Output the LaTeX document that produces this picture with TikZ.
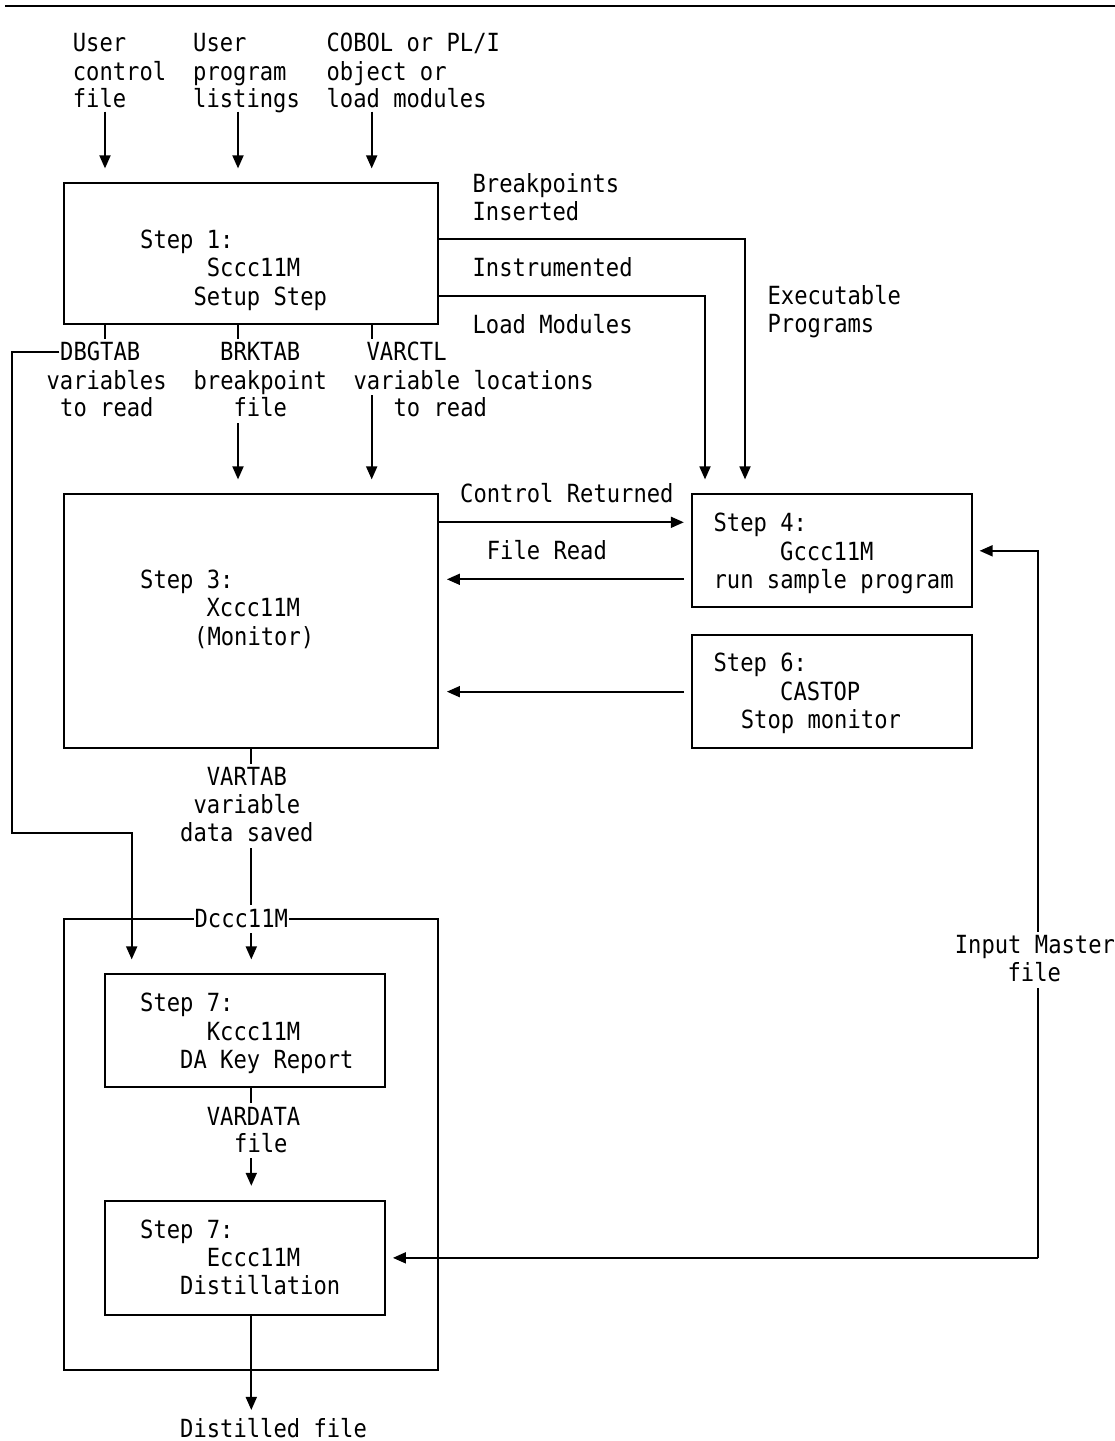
\documentclass[tikz,border=0pt]{standalone}
\usepackage{fontspec}
\newfontfamily\diagfont[FakeStretch=0.886]{DejaVu Sans Mono}
\usetikzlibrary{arrows.meta}
\begin{document}
\begin{tikzpicture}[x=1pt,y=-1pt,line width=1.8pt,
  box/.style={draw,rectangle,inner sep=0pt,line width=1.8pt},
  lbl/.style={anchor=base west,inner sep=0pt,font=\diagfont\fontsize{25pt}{28pt}\selectfont},
  arr/.style={-{Triangle[length=13pt,width=11pt]}},
  vgap/.style={shorten >=14pt},
  hgap/.style={shorten >=7pt}]
\useasboundingbox (0,0) rectangle (1115,1441);

% page rule
\coordinate (ruleL) at (5,6);
\coordinate (ruleR) at (1115,6);
\draw (ruleL) -- (ruleR);

% boxes
\node[box,minimum width=374pt,minimum height=140.7pt] (s1) at (251.3,253.65) {};
\node[box,minimum width=374pt,minimum height=254pt]   (s3) at (251.3,621.3) {};
\node[box,minimum width=280pt,minimum height=113pt]   (s4) at (831.7,550.8) {};
\node[box,minimum width=280pt,minimum height=113.3pt] (s6) at (831.7,691.65) {};
\node[box,minimum width=374pt,minimum height=451pt]   (sd) at (251.3,1144.5) {};
\node[box,minimum width=280pt,minimum height=112.4pt] (sk) at (245,1030.5) {};
\node[box,minimum width=280pt,minimum height=114.3pt] (se) at (245,1257.85) {};

% inputs
\node[lbl] (i1a) at (72,51.7) {User};
\node[lbl] (i1b) at (72,80) {control};
\node[lbl] (i1c) at (72,107) {file};
\node[lbl] (i2a) at (192.3,51.7) {User};
\node[lbl] (i2b) at (192.3,80) {program};
\node[lbl] (i2c) at (192.3,107) {listings};
\node[lbl] (i3a) at (325.7,51.7) {COBOL or PL/I};
\node[lbl] (i3b) at (325.7,80) {object or};
\node[lbl] (i3c) at (325.7,107) {load modules};

% step 1
\node[lbl] (s1a) at (139.3,248.3) {Step 1:};
\node[lbl] (s1b) at (206,276.7) {Sccc11M};
\node[lbl] (s1c) at (192.7,305) {Setup Step};

\node[lbl] (bp1) at (471.7,192) {Breakpoints};
\node[lbl] (bp2) at (471.7,220) {Inserted};
\node[lbl] (ins1) at (471.7,276.7) {Instrumented};
\node[lbl] (lm1) at (471.7,333.3) {Load Modules};
\node[lbl] (ex1) at (766.7,304.5) {Executable};
\node[lbl] (ex2) at (766.7,332.5) {Programs};

% step 1 outputs
\node[lbl] (dbg) at (59.3,360.7) {DBGTAB};
\node[lbl] (dbg2) at (45.7,389.3) {variables};
\node[lbl] (dbg3) at (59.3,416.7) {to read};
\node[lbl] (brk) at (219.3,360.7) {BRKTAB};
\node[lbl] (brk2) at (192.7,389.3) {breakpoint};
\node[lbl] (brk3) at (232.7,416.7) {file};
\node[lbl] (vc) at (365.7,360.7) {VARCTL};
\node[lbl] (vc2) at (352.7,389.3) {variable locations};
\node[lbl] (vc3) at (392.7,416.7) {to read};

% step 3
\node[lbl] (s3a) at (139.3,588.3) {Step 3:};
\node[lbl] (s3b) at (205.7,616.7) {Xccc11M};
\node[lbl] (s3c) at (193.3,645) {(Monitor)};

\node[lbl] (crl) at (459.3,502.7) {Control Returned};
\node[lbl] (frl) at (486,559) {File Read};

% step 4
\node[lbl] (s4a) at (712.7,531.7) {Step 4:};
\node[lbl] (s4b) at (779.3,560) {Gccc11M};
\node[lbl] (s4c) at (712.7,588.3) {run sample program};

% step 6
\node[lbl] (s6a) at (712.7,671.7) {Step 6:};
\node[lbl] (s6b) at (779.3,700) {CASTOP};
\node[lbl] (s6c) at (740,728.3) {Stop monitor};

% input master
\node[lbl] (im1) at (954,953.3) {Input Master};
\node[lbl] (im2) at (1006.7,981.7) {file};

% step 3 output
\node[lbl] (vt1) at (206,785) {VARTAB};
\node[lbl] (vt2) at (192.7,813.3) {variable};
\node[lbl] (vt3) at (179.3,841.7) {data saved};

% step 7 (key report)
\node[lbl] (ska) at (139.3,1011.7) {Step 7:};
\node[lbl] (skb) at (206,1040) {Kccc11M};
\node[lbl] (skc) at (179.3,1068.3) {DA Key Report};

\node[lbl] (vd1) at (206,1125) {VARDATA};
\node[lbl] (vd2) at (233.3,1152) {file};

% step 7 (distillation)
\node[lbl] (sea) at (139.3,1238.3) {Step 7:};
\node[lbl] (seb) at (206,1266.7) {Eccc11M};
\node[lbl] (sec) at (179.3,1294) {Distillation};

\node[lbl] (dist) at (179.3,1437) {Distilled file};

% connectors
\coordinate (a1) at (105,111.7);
\coordinate (a2) at (238,111.7);
\coordinate (a3) at (371.7,111.7);
\draw[arr,vgap] (a1) -- (a1 |- s1.north);
\draw[arr,vgap] (a2) -- (a2 |- s1.north);
\draw[arr,vgap] (a3) -- (a3 |- s1.north);
\draw (s1.south -| a1) -- ++(0,14);
\draw (s1.south -| a2) -- ++(0,14);
\draw (s1.south -| a3) -- ++(0,14);

\coordinate (dturn) at (11.7,833.3);
\coordinate (kx) at (131.7,900);
\draw[arr,vgap] (dbg.west) -- (dbg.west -| dturn) -- (dturn) -- (dturn -| kx) -- (kx |- sk.north);

\coordinate (b2) at (238,423.3);
\coordinate (b3) at (371.7,395);
\draw[arr,vgap] (b2) -- (b2 |- s3.north);
\draw[arr,vgap] (b3) -- (b3 |- s3.north);

\coordinate (bp) at (745,239.3);
\coordinate (ip) at (705,296);
\draw[arr,vgap] (s1.east |- bp) -- (bp) -- (bp |- s4.north);
\draw[arr,vgap] (s1.east |- ip) -- (ip) -- (ip |- s4.north);

\coordinate (cr) at (0,522.3);
\coordinate (fr) at (0,579.3);
\draw[arr,hgap] (s3.east |- cr) -- (s4.west |- cr);
\draw[arr,shorten <=6.7pt,shorten >=7.7pt] (s4.west |- fr) -- (s3.east |- fr);
\draw[arr,shorten <=6.7pt,shorten >=7.7pt] (s6.west) -- (s6.west -| s3.east);

\coordinate (imx) at (1038.3,0);
\coordinate (imlo) at (1038.3,988);
\coordinate (imhi) at (1038.3,931.7);
\draw (se.east -| imx) -- (imlo);
\draw[arr,hgap] (imhi) -- (imx |- s4.east) -- (s4.east);
\draw[arr,hgap] (se.east -| imx) -- (se.east);

\coordinate (vt) at (251.3,848.3);
\coordinate (vd) at (251.3,1158.3);
\draw (s3.south) -- ++(0,15);
\draw[arr,vgap] (vt) -- (vt |- sk.north);
\draw (sk.south -| vt) -- ++(0,15);
\draw[arr,vgap] (vd) -- (vd |- se.north);
\draw[arr,shorten >=7pt] (se.south -| vt) -- (vt |- dist.north);

% group label over the frame
\node[lbl,fill=white,inner xsep=1pt,text height=22pt,text depth=6pt] (sdl) at (192.7,927) {Dccc11M};
\end{tikzpicture}
\end{document}
